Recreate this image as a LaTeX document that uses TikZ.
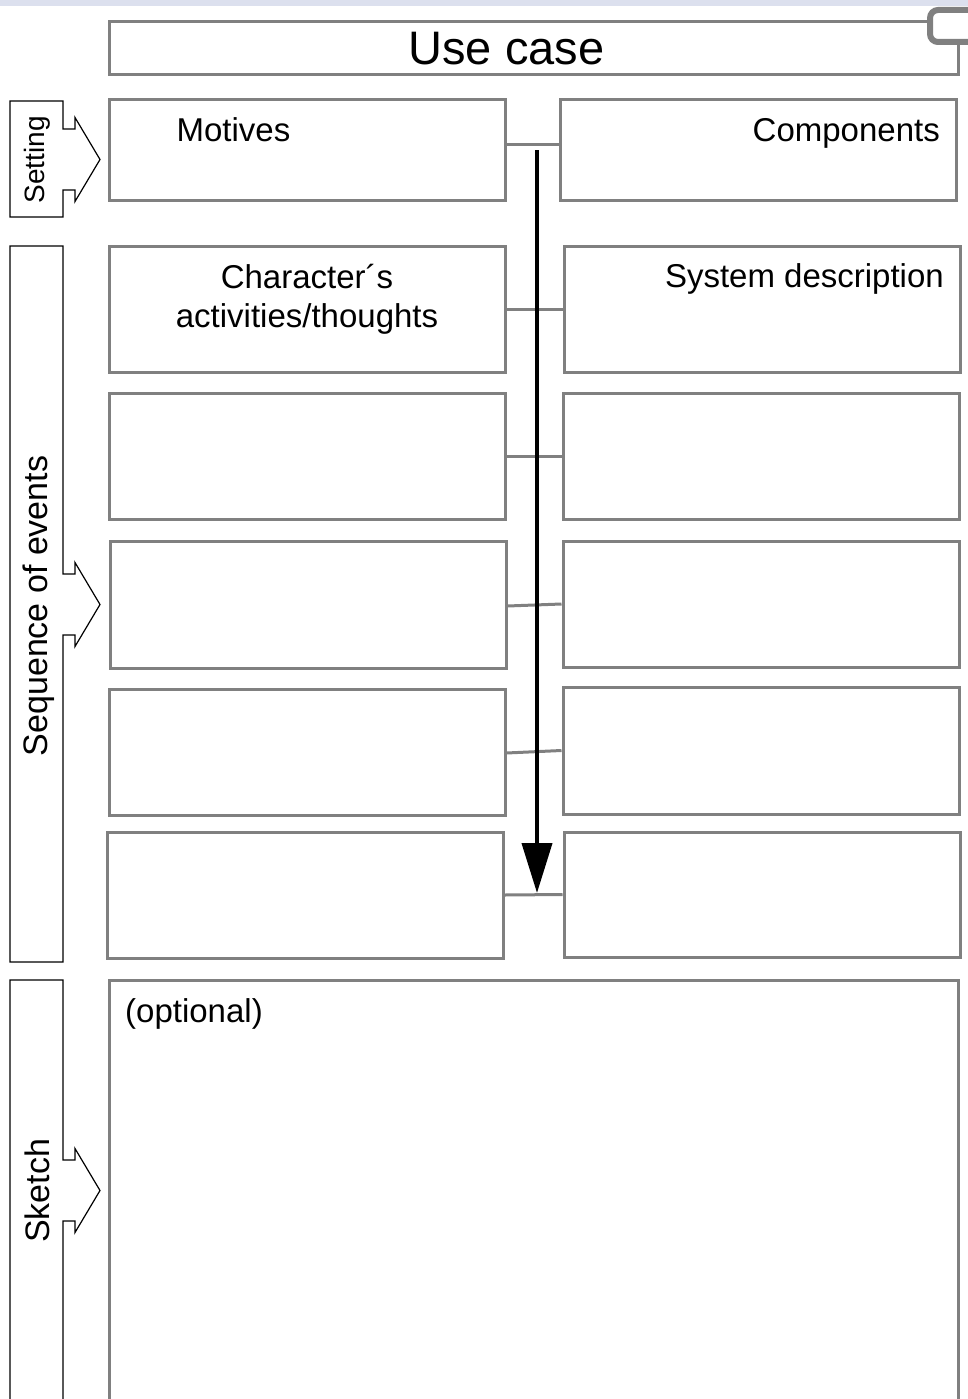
\documentclass[tikz,border=0pt]{standalone}
\usepackage{fontspec}
\setmainfont{Liberation Sans}
\usetikzlibrary{arrows.meta}

\definecolor{linegray}{HTML}{808080}
\definecolor{bandcol}{HTML}{DCE0EE}

\tikzset{
  panel/.style={draw=linegray, line width=3pt, fill=white, inner sep=0pt,
                minimum width=396pt, minimum height=126pt},
  txt/.style={font=\fontsize{33}{39}\selectfont, inner sep=0pt},
  sidetxt/.style={inner sep=0pt, rotate=90},
  conn/.style={draw=linegray, line width=3pt},
  tagshape/.style={draw=black, line width=1.2pt, fill=white, line join=miter},
  flow/.style={draw=black, line width=4pt,
               -{Triangle[length=50pt,width=30pt]}},
}

% side tag: a box with a block arrow pointing right
% #1 top, #2 bottom, #3 y of the arrow tip
\newcommand{\sidetag}[3]{%
  \draw[tagshape] (10,#1) -- (63,#1) -- (63,#3-30.5) -- (75,#3-30.5)
    -- (75,#3-42) -- (100,#3) -- (75,#3+42) -- (75,#3+30.5)
    -- (63,#3+30.5) -- (63,#2) -- (10,#2) -- cycle;}

\begin{document}
\begin{tikzpicture}[x=1pt,y=-1pt]
  \useasboundingbox (0,0) rectangle (968,1399);
  \clip (0,0) rectangle (968,1399);

  % top band
  \fill[bandcol] (0,0) rectangle (968,6);

  % title
  \node[panel, minimum width=849pt, minimum height=53pt] (title) at (533.5,48.5) {};
  \node[txt, font=\fontsize{47}{50}\selectfont, anchor=base] (titletxt) at (506.5,65) {Use case};
  \draw[draw=linegray, line width=6pt, fill=white, rounded corners=8pt]
    (930,10) rectangle (1000,42);

  % setting row
  \node[panel, minimum height=100pt] (l1) at (307,150) {};
  \node[panel, minimum height=100pt] (r1) at (758,150) {};
  \node[txt, anchor=base] (motives) at (233.5,142) {Motives};
  \node[txt, anchor=base east] (components) at (940,142) {Components};

  % sequence of events rows
  \node[panel] (l2) at (307,309) {};
  \node[panel] (l3) at (307,456) {};
  \node[panel, minimum height=127pt] (l4) at (308,604.5) {};
  \node[panel] (l5) at (307,752) {};
  \node[panel] (l6) at (305,895) {};

  \node[panel] (r2) at (762,309) {};
  \node[panel] (r3) at (761,456) {};
  \node[panel] (r4) at (761,604) {};
  \node[panel, minimum height=127pt] (r5) at (761,750.5) {};
  \node[panel, minimum height=125pt] (r6) at (762,894.5) {};

  \node[txt, align=center] (chartxt) at (307,299) {Character´s\\activities/thoughts};
  \node[txt, anchor=base east] (systxt) at (944,287) {System description};

  % links between paired boxes
  \draw[conn] ([yshift=5.5pt]l1.east) -- ([yshift=5.5pt]r1.west);
  \draw[conn] (l2.east) -- (r2.west);
  \draw[conn] (l3.east) -- (r3.west);
  \draw[conn] ([yshift=-1.5pt]l4.east) -- (r4.west);
  \draw[conn] ([yshift=-1pt]l5.east) -- (r5.west);
  \draw[conn] (l6.east) -- (r6.west);

  % time axis
  \coordinate (flowstart) at (537,150.5);
  \coordinate (flowend) at (537,893);
  \draw[flow] (flowstart) -- (flowend);

  % sketch area
  \node[panel, minimum width=849pt, minimum height=450pt] (sketch) at (533.5,1205) {};
  \node[txt, anchor=base west] (optional) at (125,1022) {(optional)};

  % side tags
  \sidetag{101}{217}{159.5}
  \node[sidetxt, font=\fontsize{28}{32}\selectfont] (setting) at (37,160) {Setting};
  \sidetag{246}{962}{604.5}
  \node[sidetxt, font=\fontsize{34}{38}\selectfont] (sequence) at (39,606) {Sequence of events};
  \sidetag{980}{1430}{1190.5}
  \node[sidetxt, font=\fontsize{34}{38}\selectfont] (sketchtxt) at (37,1191) {Sketch};
\end{tikzpicture}
\end{document}
